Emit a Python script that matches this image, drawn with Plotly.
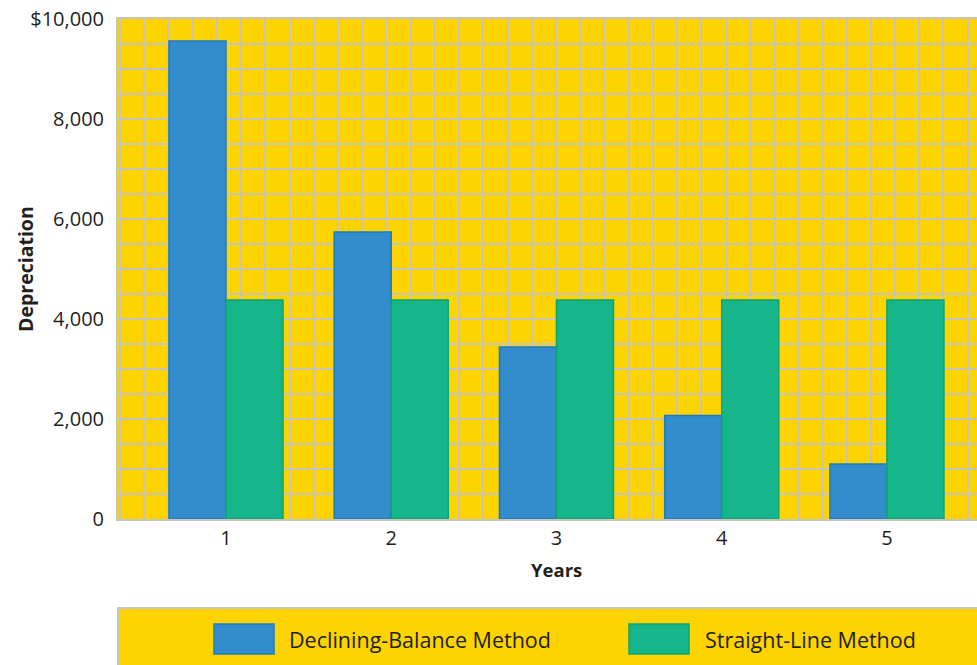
import plotly.graph_objects as go

# ---- data ----
years = [1, 2, 3, 4, 5]
year_labels = ["1", "2", "3", "4", "5"]
declining_balance = [9560, 5740, 3440, 2070, 1100]
straight_line = [4380, 4380, 4380, 4380, 4380]
series_names = ["Declining-Balance Method", "Straight-Line Method"]
y_tickvals = [0, 2000, 4000, 6000, 8000, 10000]
y_ticktext = ["0", "2,000", "4,000", "6,000", "8,000", "$10,000"]
x_title = "Years"
y_title = "Depreciation"

# ---- styles ----
YELLOW = "#FDD300"
GRID = "#C9C4BA"
BLUE = "#338DCC"
BLUE_EDGE = "#1C7BC0"
GREEN = "#17B68A"
GREEN_EDGE = "#0DA46F"
TEXT = "#231F20"
FONT = "Open Sans"

fig = go.Figure()
fig.add_trace(go.Bar(x=years, y=declining_balance, name=series_names[0],
                     marker=dict(color=BLUE, line=dict(color=BLUE_EDGE, width=1.5)),
                     showlegend=False))
fig.add_trace(go.Bar(x=years, y=straight_line, name=series_names[1],
                     marker=dict(color=GREEN, line=dict(color=GREEN_EDGE, width=1.5)),
                     showlegend=False))

x0, x1 = 0.3465, 5.545
unit = 859 / (x1 - x0)

fig.update_layout(
    width=977, height=665,
    margin=dict(l=118, r=0, t=19, b=146),
    paper_bgcolor="white",
    plot_bgcolor=YELLOW,
    barmode="group",
    bargap=0.31,
    bargroupgap=0.0,
    font=dict(family=FONT, color=TEXT, size=20),
    xaxis=dict(
        range=[x0, x1],
        tickmode="array", tickvals=years, ticktext=year_labels,
        showgrid=False, zeroline=False,
        showline=True, mirror=True, linecolor=GRID, linewidth=2,
        ticks="", tickfont=dict(size=20, color=TEXT),
        minor=dict(tickmode="linear", tick0=x0 + 2 / unit, dtick=24.22 / unit,
                   showgrid=True, gridcolor=GRID, gridwidth=1.5, ticks=""),
    ),
    yaxis=dict(
        range=[0, 10000],
        tickmode="array", tickvals=y_tickvals, ticktext=y_ticktext,
        showgrid=True, gridcolor=GRID, gridwidth=1.5, zeroline=False,
        showline=True, linecolor=GRID, linewidth=2,
        ticks="", ticklabelstandoff=8, tickfont=dict(size=20, color=TEXT),
        minor=dict(tickmode="linear", tick0=0, dtick=500,
                   showgrid=True, gridcolor=GRID, gridwidth=1.5, ticks=""),
    ),
)

# y axis title (sits close to the tick labels, as in the original)
fig.add_annotation(x=-(118 - 25) / 859, xref="paper", y=0.5, yref="paper",
                   text=y_title, textangle=-90, showarrow=False,
                   xanchor="center", yanchor="middle",
                   font=dict(size=19.5, color=TEXT, weight="bold"))

# x axis title centred on the middle category
fig.add_annotation(x=years[len(years) // 2], xref="x", y=-0.1, yref="paper",
                   text=x_title, showarrow=False, yanchor="middle",
                   font=dict(size=18.5, color=TEXT, weight="bold"))

# legend panel
fig.add_shape(type="rect", xref="paper", yref="paper", x0=0, x1=1.02, y0=-0.32, y1=-0.178,
              fillcolor=YELLOW, line=dict(color=GRID, width=2), layer="above")
legend_items = [
    (series_names[0], BLUE, BLUE_EDGE, 0.1118, 0.1967),
    (series_names[1], GREEN, GREEN_EDGE, 0.5949, 0.681),
]
for name, col, edge, sx, tx in legend_items:
    fig.add_shape(type="rect", xref="paper", yref="paper", x0=sx, x1=sx + 0.0698,
                  y0=-0.27, y1=-0.21, fillcolor=col, line=dict(color=edge, width=1.5),
                  layer="above")
    fig.add_annotation(x=tx, xref="paper", y=-0.24, yref="paper", text=name,
                       showarrow=False, xanchor="left", yanchor="middle",
                       font=dict(size=21.5, color=TEXT))

fig.write_html("out.html", config={"displayModeBar": False})

# remove the browser's default page margin so the figure sits at the window origin
with open("out.html", "r", encoding="utf-8") as f:
    html = f.read()
html = html.replace("<head>", "<head><style>html,body{margin:0;padding:0;overflow:hidden;}</style>", 1)
with open("out.html", "w", encoding="utf-8") as f:
    f.write(html)
